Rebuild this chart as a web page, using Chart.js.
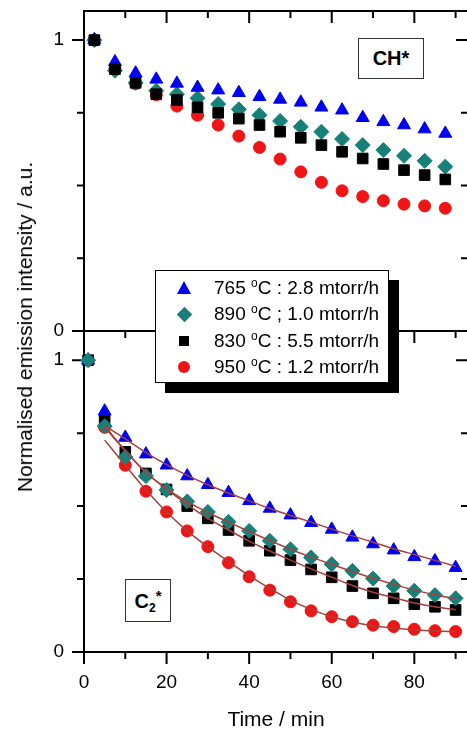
<!DOCTYPE html>
<html lang="en">
<head>
<meta charset="UTF-8">
<title>CH* and C2* emission decay</title>
<script src="https://cdn.jsdelivr.net/npm/chart.js"></script>
<style>
  body { margin:0; width:467px; height:733px; overflow:hidden; position:relative; background:#fff;
         font-family: Arial, "Liberation Sans", sans-serif; color:#000; }
  .panel { position:absolute; left:0; width:470px; }
  #topWrap { top:0; height:345px; }
  #botWrap { top:321px; height:412px; }
  .ylabel { position:absolute; left:25px; top:327px; transform:translate(-50%,-50%) rotate(-90deg);
            white-space:nowrap; font-size:21px; }
  .tag { position:absolute; border:1px solid #333; background:#fff; font-weight:bold; font-size:20px;
         display:flex; align-items:center; justify-content:center; z-index:2; }
  .legend { position:absolute; left:155px; top:270px; width:232px; height:111px; border:1px solid #000;
            background:#fff; box-shadow:10px 10px 0 #000; z-index:3; }
  .row { position:absolute; left:0; width:100%; height:26px; line-height:26px; font-size:19px; }
  .row .txt { position:absolute; left:58px; white-space:nowrap; }
  .row sup { font-size:12px; vertical-align:7px; line-height:0; }
  .mk { position:absolute; }
  .tri { left:21px; top:6px; width:0; height:0; border-left:7.5px solid transparent;
         border-right:7.5px solid transparent; border-bottom:13px solid #0000f0; }
  .dia { left:23px; top:8px; width:11px; height:11px; background:#178079; transform:rotate(45deg); }
  .sq  { left:23px; top:8px; width:10px; height:10px; background:#000; }
  .dot { left:22px; top:7px; width:12px; height:12px; border-radius:50%; background:#f01414; }
</style>
</head>
<body>
<div class="panel" id="topWrap"><canvas id="topChart"></canvas></div>
<div class="panel" id="botWrap"><canvas id="botChart"></canvas></div>

<div class="ylabel">Normalised emission intensity / a.u.</div>

<div class="tag" style="left:358px; top:38px; width:64px; height:39px;">CH*</div>
<div class="tag" style="left:125px; top:579px; width:44px; height:41px;">
  <span>C<sub style="font-size:12px; vertical-align:-4px;">2</sub><sup style="font-size:15px; vertical-align:7px;">*</sup></span>
</div>

<div class="legend">
  <div class="row" style="top:4px;"><span class="mk tri"></span><span class="txt">765 <sup>o</sup>C : 2.8 mtorr/h</span></div>
  <div class="row" style="top:30px;"><span class="mk dia"></span><span class="txt">890 <sup>o</sup>C ; 1.0 mtorr/h</span></div>
  <div class="row" style="top:57px;"><span class="mk sq"></span><span class="txt">830 <sup>o</sup>C : 5.5 mtorr/h</span></div>
  <div class="row" style="top:83px;"><span class="mk dot"></span><span class="txt">950 <sup>o</sup>C : 1.2 mtorr/h</span></div>
</div>

<script>
  // CH* panel (top)
  const topTime  = [2.5, 7.5, 12.5, 17.5, 22.5, 27.5, 32.5, 37.5, 42.5, 47.5, 52.5, 57.5, 62.5, 67.5, 72.5, 77.5, 82.5, 87.5];
  const topBlue  = [1.0, 0.925, 0.886, 0.865, 0.851, 0.837, 0.828, 0.819, 0.805, 0.796, 0.786, 0.769, 0.759, 0.733, 0.719, 0.708, 0.694, 0.679];
  const topTeal  = [1.0, 0.895, 0.853, 0.826, 0.814, 0.800, 0.780, 0.762, 0.742, 0.722, 0.702, 0.685, 0.660, 0.639, 0.622, 0.602, 0.585, 0.565];
  const topBlack = [1.0, 0.900, 0.853, 0.814, 0.794, 0.769, 0.750, 0.730, 0.708, 0.685, 0.664, 0.639, 0.616, 0.593, 0.574, 0.553, 0.536, 0.521];
  const topRed   = [1.0, 0.900, 0.850, 0.812, 0.773, 0.742, 0.708, 0.670, 0.631, 0.591, 0.547, 0.511, 0.482, 0.462, 0.448, 0.436, 0.430, 0.422];

  // C2* panel (bottom)
  const botTime  = [1, 5, 10, 15, 20, 25, 30, 35, 40, 45, 50, 55, 60, 65, 70, 75, 80, 85, 90];
  const botBlue  = [1.0, 0.825, 0.735, 0.678, 0.640, 0.603, 0.573, 0.546, 0.518, 0.492, 0.469, 0.443, 0.420, 0.393, 0.370, 0.349, 0.326, 0.312, 0.289];
  const botTeal  = [1.0, 0.774, 0.668, 0.603, 0.555, 0.516, 0.480, 0.446, 0.415, 0.381, 0.352, 0.324, 0.301, 0.278, 0.252, 0.226, 0.210, 0.195, 0.184];
  const botBlack = [1.0, 0.795, 0.686, 0.612, 0.557, 0.500, 0.458, 0.418, 0.381, 0.347, 0.315, 0.283, 0.256, 0.226, 0.201, 0.184, 0.164, 0.155, 0.144];
  const botRed   = [1.0, 0.770, 0.640, 0.551, 0.480, 0.415, 0.361, 0.306, 0.258, 0.212, 0.172, 0.141, 0.121, 0.104, 0.092, 0.087, 0.078, 0.073, 0.070];

  // fitted curves
  const fitTime  = [5, 10, 15, 20, 25, 30, 35, 40, 45, 50, 55, 60, 65, 70, 75, 80, 85, 90];
  const fitBlue  = [0.775, 0.730, 0.683, 0.642, 0.605, 0.573, 0.545, 0.518, 0.492, 0.468, 0.445, 0.421, 0.398, 0.376, 0.354, 0.334, 0.314, 0.294];
  const fitTeal  = [0.775, 0.690, 0.615, 0.560, 0.515, 0.478, 0.445, 0.413, 0.382, 0.352, 0.325, 0.300, 0.276, 0.253, 0.232, 0.212, 0.196, 0.182];
  const fitBlack = [0.770, 0.690, 0.615, 0.558, 0.505, 0.458, 0.418, 0.380, 0.346, 0.315, 0.285, 0.256, 0.228, 0.205, 0.186, 0.168, 0.155, 0.145];
  const fitRed   = [0.726, 0.640, 0.555, 0.480, 0.415, 0.360, 0.310, 0.262, 0.218, 0.178, 0.146, 0.121, 0.103, 0.090, 0.082, 0.076, 0.072, 0.070];

  const xTickVals  = [0, 10, 20, 30, 40, 50, 60, 70, 80, 90];
  const xLabelVals = [0, 20, 40, 60, 80];
  const yTickVals  = [0, 0.25, 0.5, 0.75, 1];
  const yLabelVals = [0, 1];

  const BLUE = '#0000f0', TEAL = '#178079', BLACK = '#000000', RED = '#f01414', FIT = '#a8403c';

  Chart.defaults.font.family = 'Arial, "Liberation Sans", sans-serif';
  Chart.defaults.color = '#000';

  function pairs(xs, ys) { return ys.map((v, i) => ({ x: xs[i], y: v })); }

  // order: lower number is drawn on top
  function markers(xs, blue, teal, black, red, ord) {
    const base = { showLine: false, borderWidth: 1, clip: false };
    return [
      Object.assign({ data: pairs(xs, blue),  pointStyle: 'triangle', pointRadius: 7.5, backgroundColor: BLUE,  borderColor: BLUE,  order: ord[0] }, base),
      Object.assign({ data: pairs(xs, teal),  pointStyle: 'rectRot',  pointRadius: 7.5, backgroundColor: TEAL,  borderColor: TEAL,  order: ord[1] }, base),
      Object.assign({ data: pairs(xs, black), pointStyle: 'rect',     pointRadius: 7.5, backgroundColor: BLACK, borderColor: BLACK, order: ord[2] }, base),
      Object.assign({ data: pairs(xs, red),   pointStyle: 'circle',   pointRadius: 6,   backgroundColor: RED,   borderColor: RED,   order: ord[3] }, base)
    ];
  }

  function fitLine(ys) {
    return { data: pairs(fitTime, ys), showLine: true, pointRadius: 0, borderColor: FIT, borderWidth: 1.5,
             tension: 0.4, cubicInterpolationMode: 'monotone', order: 0, clip: false };
  }

  // frame with inward ticks on top/right, outward on left (and bottom for the lower panel)
  const framePlugin = {
    id: 'frame',
    beforeDatasetsDraw(chart, args, opts) {
      const { ctx, chartArea: a, scales: { x, y } } = chart;
      ctx.save();
      ctx.strokeStyle = '#000';
      ctx.lineWidth = 2;
      ctx.strokeRect(a.left, a.top, a.right - a.left, a.bottom - a.top);
      ctx.beginPath();
      xTickVals.forEach(v => {
        const px = x.getPixelForValue(v);
        const len = v % 20 === 0 ? 12 : 7;
        if (v > 0) { ctx.moveTo(px, a.top); ctx.lineTo(px, a.top + len); }
        if (opts.bottomTicks) { ctx.moveTo(px, a.bottom); ctx.lineTo(px, a.bottom + len); }
      });
      yTickVals.forEach(v => {
        const py = y.getPixelForValue(v);
        const len = (v === 0 || v === 1) ? 12 : 7;
        ctx.moveTo(a.left - len, py); ctx.lineTo(a.left, py);
        ctx.moveTo(a.right - len, py); ctx.lineTo(a.right, py);
      });
      ctx.stroke();
      ctx.restore();
    }
  };

  function yScale() {
    return {
      min: 0, max: 1.1,
      grid: { display: false, drawTicks: false },
      border: { display: false },
      ticks: { padding: 20, font: { size: 19 } },
      afterBuildTicks(s) { s.ticks = yLabelVals.map(v => ({ value: v })); },
      afterFit(s) { s.width = 84; s.paddingTop = 0; s.paddingBottom = 0; }
    };
  }

  function makeChart(id, datasets, padding, showX, bottomTicks) {
    return new Chart(document.getElementById(id), {
      type: 'scatter',
      data: { datasets },
      plugins: [framePlugin],
      options: {
        animation: false,
        responsive: true,
        maintainAspectRatio: false,
        devicePixelRatio: 1,
        layout: { padding, autoPadding: false },
        plugins: { legend: { display: false }, tooltip: { enabled: false }, frame: { bottomTicks } },
        scales: {
          x: {
            type: 'linear', min: 0, max: 93, display: showX,
            grid: { display: false, drawTicks: false },
            border: { display: false },
            ticks: { padding: 19, font: { size: 19 } },
            title: { display: showX, text: 'Time / min', font: { size: 21 }, padding: { top: 0, bottom: 0 } },
            afterBuildTicks(s) { s.ticks = xLabelVals.map(v => ({ value: v })); },
            afterFit(s) { if (showX) s.height = 81; s.paddingLeft = 0; s.paddingRight = 0; }
          },
          y: yScale()
        }
      }
    });
  }

  makeChart('topChart', markers(topTime, topBlue, topTeal, topBlack, topRed, [2, 3, 1, 4]),
            { top: 11, right: 2, bottom: 14, left: 0 }, false, false);

  makeChart('botChart',
            [fitLine(fitBlue), fitLine(fitTeal), fitLine(fitBlack), fitLine(fitRed)]
              .concat(markers(botTime, botBlue, botTeal, botBlack, botRed, [2, 1, 3, 4])),
            { top: 10, right: 2, bottom: 0, left: 0 }, true, true);
</script>
</body>
</html>
